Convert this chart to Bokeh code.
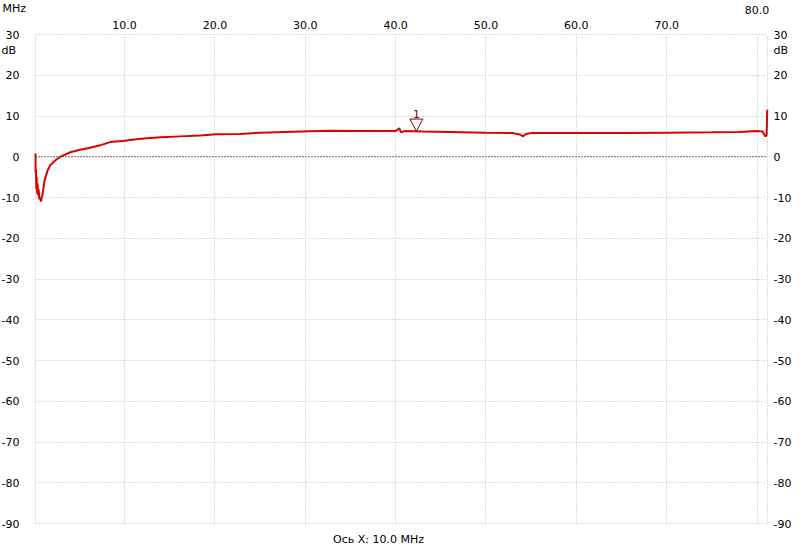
from bokeh.plotting import figure
from bokeh.models import FixedTicker, Grid
from bokeh.embed import file_html
from bokeh.resources import INLINE
from bokeh.core.properties import value

# ---- data ----
freq_mhz = [0.15, 0.16, 0.2, 0.24, 0.28, 0.33, 0.38, 0.44, 0.5, 0.58, 0.66, 0.75, 0.85,
            0.95, 1.15, 1.5, 1.8, 2.4, 2.9, 3.5, 4.0, 5.1, 6.2, 7.3, 8.4, 10.0, 11.8,
            14.0, 16.2, 18.4, 20.1, 22.8, 25.0, 29.5, 32.8, 36.0, 40.0, 40.4, 40.6,
            41.0, 43.0, 46.0, 50.0, 53.0, 53.8, 54.1, 54.4, 55.0, 60.0, 65.0, 70.0,
            75.0, 78.0, 80.0, 80.6, 80.9, 81.05, 81.12]
gain_db = [0.8, -4.0, -3.0, -8.0, -5.0, -9.0, -6.5, -9.5, -8.0, -10.5, -10.0, -11.0, -10.0,
           -9.0, -5.8, -3.3, -2.0, -0.8, 0.0, 0.6, 1.1, 1.7, 2.2, 2.8, 3.6, 3.9, 4.4,
           4.8, 5.0, 5.2, 5.5, 5.6, 5.9, 6.2, 6.4, 6.3, 6.3, 7.0, 6.0,
           6.3, 6.2, 6.1, 5.9, 5.8, 5.4, 5.0, 5.6, 5.8, 5.8, 5.8, 5.9,
           6.0, 6.1, 6.3, 6.2, 5.0, 5.2, 11.5]

x_ticks = [10, 20, 30, 40, 50, 60, 70, 80]
x_tick_labels = ["10.0", "20.0", "30.0", "40.0", "50.0", "60.0", "70.0", "80.0"]
y_ticks = [30, 20, 10, 0, -10, -20, -30, -40, -50, -60, -70, -80, -90]
y_tick_labels = ["30", "20", "10", "0", "-10", "-20", "-30", "-40", "-50", "-60", "-70", "-80", "-90"]

marker_freq = [42.3]
marker_db = [6.3]
marker_name = ["1"]

x_unit = "MHz"
y_unit = "dB"
x_axis_caption = "Ось X: 10.0 MHz"

X_START, X_END = 0.15, 81.15
Y_START, Y_END = -90, 30

# ---- layout (pixels) ----
FONT = "DejaVu Sans"
FS = "11px"
W, H = 794, 551
PAD_L, PAD_R, PAD_T, PAD_B = 35, 27, 34, 28
FRAME_W = W - PAD_L - PAD_R
FRAME_H = H - PAD_T - PAD_B
sx = FRAME_W / (X_END - X_START)
sy = FRAME_H / (Y_END - Y_START)

def px_x(px):          # figure pixel -> data x
    return X_START + (px - PAD_L) / sx

def px_y(py):          # figure pixel (from top) -> data y
    return Y_END - (py - PAD_T) / sy

p = figure(width=W, height=H,
           x_range=(px_x(0), px_x(W)), y_range=(px_y(H), px_y(0)),
           output_backend="svg", toolbar_location=None,
           min_border=0, min_border_left=0, min_border_right=0,
           min_border_top=0, min_border_bottom=0)
p.axis.visible = False
p.grid.visible = False
p.outline_line_color = None
p.background_fill_color = "white"
p.border_fill_color = "white"

vgrid = Grid(dimension=0, ticker=FixedTicker(ticks=[X_START] + x_ticks + [X_END]),
             cross_bounds=(Y_START, Y_END),
             grid_line_color="#b8b8b8", grid_line_dash="1 2", grid_line_width=1)
hgrid = Grid(dimension=1, ticker=FixedTicker(ticks=y_ticks),
             cross_bounds=(X_START, X_END),
             grid_line_color="#b8b8b8", grid_line_dash="1 2", grid_line_width=1)
p.add_layout(vgrid)
p.add_layout(hgrid)

# 0 dB reference line
p.segment(x0=[X_START], y0=[0], x1=[X_END], y1=[0], line_color="black",
          line_dash="1 2", line_width=1)

# trace
p.line(freq_mhz, gain_db, line_color="#dd0000", line_width=2)

# marker triangle
tri_w, tri_h = 13, 12
xs = [[f - tri_w / 2 / sx, f + tri_w / 2 / sx, f] for f in marker_freq]
ys = [[d + tri_h / sy, d + tri_h / sy, d] for d in marker_db]
p.patches(xs, ys, fill_color="white", line_color="#7a0000", line_width=1)
p.text(x=marker_freq, y=[d + (tri_h + 5) / sy for d in marker_db], text=marker_name,
       text_align="center", text_baseline="middle", text_font=value(FONT),
       text_font_size=value(FS), text_color="#7a0000")

def txt(xv, yv, t, align="left", color="black"):
    p.text(x=xv, y=yv, text=t, text_align=align, text_baseline="middle",
           text_font=value(FONT), text_font_size=value(FS), text_color=color)

# y tick labels, left and right
txt([px_x(19)] * len(y_ticks), y_ticks, y_tick_labels, align="right")
txt([px_x(773)] * len(y_ticks), y_ticks, y_tick_labels, align="left")
# x tick labels on top (last one raised)
txt(x_ticks[:-1], [px_y(24)] * (len(x_ticks) - 1), x_tick_labels[:-1], align="center")
txt(x_ticks[-1:], [px_y(9)], x_tick_labels[-1:], align="center")
# units and caption
txt([px_x(2)], [px_y(8)], [x_unit])
txt([px_x(1)], [px_y(50)], [y_unit])
txt([px_x(773)], [px_y(50)], [y_unit])
txt([px_x(378)], [px_y(539)], [x_axis_caption], align="center")

open("out.html", "w").write(file_html(p, INLINE))
